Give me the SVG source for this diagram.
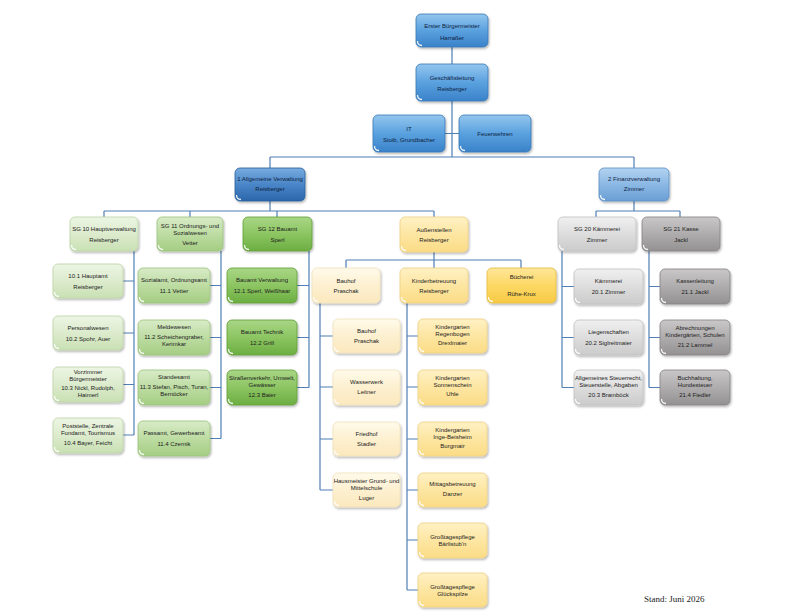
<svg xmlns="http://www.w3.org/2000/svg" width="798" height="615" viewBox="0 0 798 615">
<defs>
<linearGradient id="gBlue" x1="0" y1="0" x2="0" y2="1"><stop offset="0" stop-color="#94c6ee"/><stop offset="0.5" stop-color="#5aa1df"/><stop offset="1" stop-color="#3a82c9"/></linearGradient>
<linearGradient id="gBlueDark" x1="0" y1="0" x2="0" y2="1"><stop offset="0" stop-color="#78acdf"/><stop offset="0.5" stop-color="#4a86c8"/><stop offset="1" stop-color="#2b66aa"/></linearGradient>
<linearGradient id="gBlueLight" x1="0" y1="0" x2="0" y2="1"><stop offset="0" stop-color="#b3d3f0"/><stop offset="0.5" stop-color="#8bb8e4"/><stop offset="1" stop-color="#6a9fd5"/></linearGradient>
<linearGradient id="gGreen1" x1="0" y1="0" x2="0" y2="1"><stop offset="0" stop-color="#edf5e4"/><stop offset="0.5" stop-color="#dcebcd"/><stop offset="1" stop-color="#c9e0b3"/></linearGradient>
<linearGradient id="gGreen2" x1="0" y1="0" x2="0" y2="1"><stop offset="0" stop-color="#d8ebc7"/><stop offset="0.5" stop-color="#bddca2"/><stop offset="1" stop-color="#a4cd83"/></linearGradient>
<linearGradient id="gGreen3" x1="0" y1="0" x2="0" y2="1"><stop offset="0" stop-color="#a9d685"/><stop offset="0.5" stop-color="#8cc562"/><stop offset="1" stop-color="#6cae42"/></linearGradient>
<linearGradient id="gYellow" x1="0" y1="0" x2="0" y2="1"><stop offset="0" stop-color="#fff1c4"/><stop offset="0.5" stop-color="#fde6a2"/><stop offset="1" stop-color="#fbdc86"/></linearGradient>
<linearGradient id="gPale" x1="0" y1="0" x2="0" y2="1"><stop offset="0" stop-color="#fffaea"/><stop offset="0.5" stop-color="#fdf0d0"/><stop offset="1" stop-color="#fbe8bd"/></linearGradient>
<linearGradient id="gGold" x1="0" y1="0" x2="0" y2="1"><stop offset="0" stop-color="#ffe699"/><stop offset="0.5" stop-color="#fcd864"/><stop offset="1" stop-color="#f7ca45"/></linearGradient>
<linearGradient id="gGray1" x1="0" y1="0" x2="0" y2="1"><stop offset="0" stop-color="#f0f0f0"/><stop offset="0.5" stop-color="#dddddd"/><stop offset="1" stop-color="#cbcbcb"/></linearGradient>
<linearGradient id="gGray2" x1="0" y1="0" x2="0" y2="1"><stop offset="0" stop-color="#c9c7c7"/><stop offset="0.5" stop-color="#aeacac"/><stop offset="1" stop-color="#939191"/></linearGradient>
<filter id="sh" x="-10%" y="-10%" width="130%" height="140%"><feDropShadow dx="1" dy="1.5" stdDeviation="1" flood-color="#000" flood-opacity="0.3"/></filter>
</defs>
<style>
.box{filter:url(#sh);stroke-width:0.8}
.blue{fill:url(#gBlue);stroke:#3a78b5}
.bdark{fill:url(#gBlueDark);stroke:#285f9c}
.blight{fill:url(#gBlueLight);stroke:#5e8fc3}
.g1{fill:url(#gGreen1);stroke:#bcd6a6}
.g2{fill:url(#gGreen2);stroke:#9cc47e}
.g3{fill:url(#gGreen3);stroke:#5f9e39}
.y{fill:url(#gYellow);stroke:#efd183}
.p{fill:url(#gPale);stroke:#f1e2bb}
.gold{fill:url(#gGold);stroke:#e6bc3c}
.gr1{fill:url(#gGray1);stroke:#c2c2c2}
.gr2{fill:url(#gGray2);stroke:#858383}
.curl{fill:none;stroke:#ffffff;stroke-width:1.3;stroke-opacity:0.9}
text{font-family:"Liberation Sans",Arial,sans-serif;font-size:6px;text-anchor:middle;fill:#222222}
.tb{fill:#0e2240}
.conn{fill:none;stroke:#4f7fb4;stroke-width:1.2}
.stand{font-family:"Liberation Serif","Times New Roman",serif;font-size:9px;text-anchor:start;fill:#222222}
</style>

<g id="connectors" class="conn">
<path d="M452 47V64M452 101V157M445 133.5H459M270 157H634M270 157V168M634 157V168"/>
<path d="M270 201V211M104 211H434M104 211V217M190 211V217M277 211V217M434 211V217"/>
<path d="M134 251V435M123 281H134M123 333H134M123 384.5H134M123 435H134"/>
<path d="M221 251V438.5M210 285.5H221M210 337.5H221M210 387.5H221M210 438.5H221"/>
<path d="M309 251V387.5M297 285.5H309M297 337.5H309M297 387.5H309"/>
<path d="M434 252V260M346 260H521M346 260V268M434 260V268M521 260V268"/>
<path d="M320 303V490M320 336H333M320 387H333M320 439H333M320 490H333"/>
<path d="M407 303V590M407 336H418M407 387H418M407 439H418M407 490H418M407 540H418M407 590H418"/>
<path d="M634 201V211M596 211H680M596 211V217M680 211V217"/>
<path d="M562 251V387.5M562 286.5H574M562 337.5H574M562 387.5H574"/>
<path d="M649 251V387.5M649 286.5H660M649 337.5H660M649 387.5H660"/>
</g>

<g id="n_bgm"><rect class="box blue" x="416" y="14" width="72" height="33" rx="5"/><path class="curl" d="M417.5 41Q417.5 45.5 422 45.5"/><text class="tb" x="452" y="28">Erster Bürgermeister</text><text class="tb" x="452" y="40">Harraßer</text></g>
<g id="n_gl"><rect class="box blue" x="416" y="64" width="72" height="37" rx="5"/><path class="curl" d="M417.5 95Q417.5 99.5 422 99.5"/><text class="tb" x="452" y="80">Geschäftsleitung</text><text class="tb" x="452" y="91">Reisberger</text></g>
<g id="n_it"><rect class="box blue" x="373" y="115" width="72" height="37" rx="5"/><path class="curl" d="M374.5 146Q374.5 150.5 379 150.5"/><text class="tb" x="409" y="131">IT</text><text class="tb" x="409" y="142">Stoib, Grundbacher</text></g>
<g id="n_fw"><rect class="box blue" x="459" y="115" width="72" height="37" rx="5"/><path class="curl" d="M460.5 146Q460.5 150.5 465 150.5"/><text class="tb" x="495" y="136">Feuerwehren</text></g>
<g id="n_av"><rect class="box bdark" x="235" y="168" width="70" height="33" rx="5"/><path class="curl" d="M236.5 195Q236.5 199.5 241 199.5"/><text class="tb" x="270" y="181">1 Allgemeine Verwaltung</text><text class="tb" x="270" y="191">Reisberger</text></g>
<g id="n_fv"><rect class="box blight" x="599" y="168" width="70" height="33" rx="5"/><path class="curl" d="M600.5 195Q600.5 199.5 605 199.5"/><text class="tb" x="634" y="181">2 Finanzverwaltung</text><text class="tb" x="634" y="191">Zimmer</text></g>

<g id="sg10"><rect class="box g1" x="70" y="217" width="68" height="34" rx="5"/><path class="curl" d="M71.5 245Q71.5 249.5 76 249.5"/><text x="104" y="231">SG 10 Hauptverwaltung</text><text x="104" y="242">Reisberger</text></g>
<g id="sg11"><rect class="box g2" x="157" y="217" width="66" height="34" rx="5"/><path class="curl" d="M158.5 245Q158.5 249.5 163 249.5"/><text x="190" y="228">SG 11 Ordnungs- und</text><text x="190" y="235">Sozialwesen</text><text x="190" y="245">Vetter</text></g>
<g id="sg12"><rect class="box g3" x="243" y="217" width="69" height="34" rx="5"/><path class="curl" d="M244.5 245Q244.5 249.5 249 249.5"/><text x="277.5" y="231">SG 12 Bauamt</text><text x="277.5" y="242">Sperl</text></g>
<g id="aus"><rect class="box y" x="400" y="217" width="68" height="35" rx="5"/><path class="curl" d="M401.5 246Q401.5 250.5 406 250.5"/><text x="434" y="232">Außenstellen</text><text x="434" y="242">Reisberger</text></g>
<g id="sg20"><rect class="box gr1" x="558" y="217" width="78" height="34" rx="5"/><path class="curl" d="M559.5 245Q559.5 249.5 564 249.5"/><text x="597" y="231">SG 20 Kämmerei</text><text x="597" y="242">Zimmer</text></g>
<g id="sg21"><rect class="box gr2" x="642" y="217" width="78" height="34" rx="5"/><path class="curl" d="M643.5 245Q643.5 249.5 648 249.5"/><text x="681" y="231">SG 21 Kasse</text><text x="681" y="242">Jackl</text></g>

<g id="n101"><rect class="box g1" x="53" y="264" width="70" height="34" rx="5"/><path class="curl" d="M54.5 292Q54.5 296.5 59 296.5"/><text x="88" y="278">10.1 Hauptamt</text><text x="88" y="289">Reisberger</text></g>
<g id="n102"><rect class="box g1" x="53" y="316" width="70" height="34" rx="5"/><path class="curl" d="M54.5 344Q54.5 348.5 59 348.5"/><text x="88" y="330">Personalwesen</text><text x="88" y="341">10.2 Spohr, Auer</text></g>
<g id="n103"><rect class="box g1" x="53" y="367" width="70" height="35" rx="5"/><path class="curl" d="M54.5 396Q54.5 400.5 59 400.5"/><text x="88" y="374">Vorzimmer</text><text x="88" y="380.5">Bürgermeister</text><text x="88" y="390">10.3 Nickl, Rudolph,</text><text x="88" y="397">Haimerl</text></g>
<g id="n104"><rect class="box g1" x="53" y="418" width="70" height="35" rx="5"/><path class="curl" d="M54.5 447Q54.5 451.5 59 451.5"/><text x="88" y="428">Poststelle, Zentrale</text><text x="88" y="435">Fundamt, Tourismus</text><text x="88" y="445">10.4 Bayer, Feicht</text></g>

<g id="n111"><rect class="box g2" x="138" y="268" width="72" height="35" rx="5"/><path class="curl" d="M139.5 297Q139.5 301.5 144 301.5"/><text x="174" y="282">Sozialamt, Ordnungsamt</text><text x="174" y="293">11.1 Vetter</text></g>
<g id="n112"><rect class="box g2" x="138" y="320" width="72" height="35" rx="5"/><path class="curl" d="M139.5 349Q139.5 353.5 144 353.5"/><text x="174" y="329">Meldewesen</text><text x="174" y="339">11.2 Scheichengraber,</text><text x="174" y="346">Kerimkar</text></g>
<g id="n113"><rect class="box g2" x="138" y="370" width="72" height="35" rx="5"/><path class="curl" d="M139.5 399Q139.5 403.5 144 403.5"/><text x="174" y="379">Standesamt</text><text x="174" y="389">11.3 Stefan, Pisch, Turan,</text><text x="174" y="396">Bernöcker</text></g>
<g id="n114"><rect class="box g2" x="138" y="421" width="72" height="35" rx="5"/><path class="curl" d="M139.5 450Q139.5 454.5 144 454.5"/><text x="174" y="435">Passamt, Gewerbeamt</text><text x="174" y="446">11.4 Czernik</text></g>

<g id="n121"><rect class="box g3" x="227" y="268" width="70" height="35" rx="5"/><path class="curl" d="M228.5 297Q228.5 301.5 233 301.5"/><text x="262" y="282">Bauamt Verwaltung</text><text x="262" y="293">12.1 Sperl, Weißhaar</text></g>
<g id="n122"><rect class="box g3" x="227" y="320" width="70" height="35" rx="5"/><path class="curl" d="M228.5 349Q228.5 353.5 233 353.5"/><text x="262" y="334">Bauamt Technik</text><text x="262" y="345">12.2 Grill</text></g>
<g id="n123"><rect class="box g3" x="227" y="370" width="70" height="35" rx="5"/><path class="curl" d="M228.5 399Q228.5 403.5 233 403.5"/><text x="262" y="380">Straßenverkehr, Umwelt,</text><text x="262" y="387">Gewässer</text><text x="262" y="397">12.3 Baier</text></g>

<g id="bauhof"><rect class="box p" x="312" y="268" width="68" height="35" rx="5"/><path class="curl" d="M313.5 297Q313.5 301.5 318 301.5"/><text x="346" y="283">Bauhof</text><text x="346" y="293">Praschak</text></g>
<g id="kinder"><rect class="box y" x="400" y="268" width="68" height="35" rx="5"/><path class="curl" d="M401.5 297Q401.5 301.5 406 301.5"/><text x="434" y="283">Kinderbetreuung</text><text x="434" y="293">Reisberger</text></g>
<g id="buecherei"><rect class="box gold" x="487" y="268" width="69" height="35" rx="5"/><path class="curl" d="M488.5 297Q488.5 301.5 493 301.5"/><text x="521.5" y="279">Bücherei</text><text x="521.5" y="296">Rühe-Krux</text></g>

<g id="b1"><rect class="box p" x="333" y="319" width="67" height="34" rx="5"/><path class="curl" d="M334.5 347Q334.5 351.5 339 351.5"/><text x="366.5" y="333">Bauhof</text><text x="366.5" y="343">Praschak</text></g>
<g id="b2"><rect class="box p" x="333" y="370" width="67" height="35" rx="5"/><path class="curl" d="M334.5 399Q334.5 403.5 339 403.5"/><text x="366.5" y="384">Wasserwerk</text><text x="366.5" y="394">Leitner</text></g>
<g id="b3"><rect class="box p" x="333" y="422" width="67" height="34" rx="5"/><path class="curl" d="M334.5 450Q334.5 454.5 339 454.5"/><text x="366.5" y="436">Friedhof</text><text x="366.5" y="446">Stadler</text></g>
<g id="b4"><rect class="box p" x="333" y="473" width="67" height="34" rx="5"/><path class="curl" d="M334.5 501Q334.5 505.5 339 505.5"/><text x="366.5" y="483">Hausmeister Grund- und</text><text x="366.5" y="490">Mittelschule</text><text x="366.5" y="500">Luger</text></g>

<g id="k1"><rect class="box y" x="418" y="319" width="69" height="34" rx="5"/><path class="curl" d="M419.5 347Q419.5 351.5 424 351.5"/><text x="452.5" y="329">Kindergarten</text><text x="452.5" y="336">Regenbogen</text><text x="452.5" y="345">Drexlmaier</text></g>
<g id="k2"><rect class="box y" x="418" y="370" width="69" height="35" rx="5"/><path class="curl" d="M419.5 399Q419.5 403.5 424 403.5"/><text x="452.5" y="380">Kindergarten</text><text x="452.5" y="387">Sonnenschein</text><text x="452.5" y="396">Uhle</text></g>
<g id="k3"><rect class="box y" x="418" y="422" width="69" height="34" rx="5"/><path class="curl" d="M419.5 450Q419.5 454.5 424 454.5"/><text x="452.5" y="432">Kindergarten</text><text x="452.5" y="439">Inge-Beisheim</text><text x="452.5" y="448">Burgmair</text></g>
<g id="k4"><rect class="box y" x="418" y="473" width="69" height="34" rx="5"/><path class="curl" d="M419.5 501Q419.5 505.5 424 505.5"/><text x="452.5" y="486">Mittagsbetreuung</text><text x="452.5" y="496">Danzer</text></g>
<g id="k5"><rect class="box y" x="418" y="523" width="69" height="35" rx="5"/><path class="curl" d="M419.5 552Q419.5 556.5 424 556.5"/><text x="452.5" y="539">Großtagespflege</text><text x="452.5" y="546">Bärlistub'n</text></g>
<g id="k6"><rect class="box y" x="418" y="573" width="69" height="34" rx="5"/><path class="curl" d="M419.5 601Q419.5 605.5 424 605.5"/><text x="452.5" y="589">Großtagespflege</text><text x="452.5" y="596">Glückspilze</text></g>

<g id="n201"><rect class="box gr1" x="574" y="269" width="69" height="35" rx="5"/><path class="curl" d="M575.5 298Q575.5 302.5 580 302.5"/><text x="608.5" y="283">Kämmerei</text><text x="608.5" y="294">20.1 Zimmer</text></g>
<g id="n202"><rect class="box gr1" x="574" y="320" width="69" height="35" rx="5"/><path class="curl" d="M575.5 349Q575.5 353.5 580 353.5"/><text x="608.5" y="334">Liegenschaften</text><text x="608.5" y="345">20.2 Siglreitmaier</text></g>
<g id="n203"><rect class="box gr1" x="574" y="370" width="69" height="35" rx="5"/><path class="curl" d="M575.5 399Q575.5 403.5 580 403.5"/><text x="608.5" y="380">Allgemeines Steuerrecht,</text><text x="608.5" y="387">Steuerstelle, Abgaben</text><text x="608.5" y="397">20.3 Bramböck</text></g>

<g id="n211"><rect class="box gr2" x="660" y="269" width="70" height="35" rx="5"/><path class="curl" d="M661.5 298Q661.5 302.5 666 302.5"/><text x="695" y="283">Kassenleitung</text><text x="695" y="294">21.1 Jackl</text></g>
<g id="n212"><rect class="box gr2" x="660" y="320" width="70" height="35" rx="5"/><path class="curl" d="M661.5 349Q661.5 353.5 666 353.5"/><text x="695" y="330">Abrechnungen</text><text x="695" y="337">Kindergärten, Schulen</text><text x="695" y="347">21.2 Lammel</text></g>
<g id="n214"><rect class="box gr2" x="660" y="370" width="70" height="35" rx="5"/><path class="curl" d="M661.5 399Q661.5 403.5 666 403.5"/><text x="695" y="380">Buchhaltung,</text><text x="695" y="387">Hundesteuer</text><text x="695" y="397">21.4 Fiedler</text></g>

<text class="stand" x="644" y="602">Stand: Juni 2026</text>
</svg>
